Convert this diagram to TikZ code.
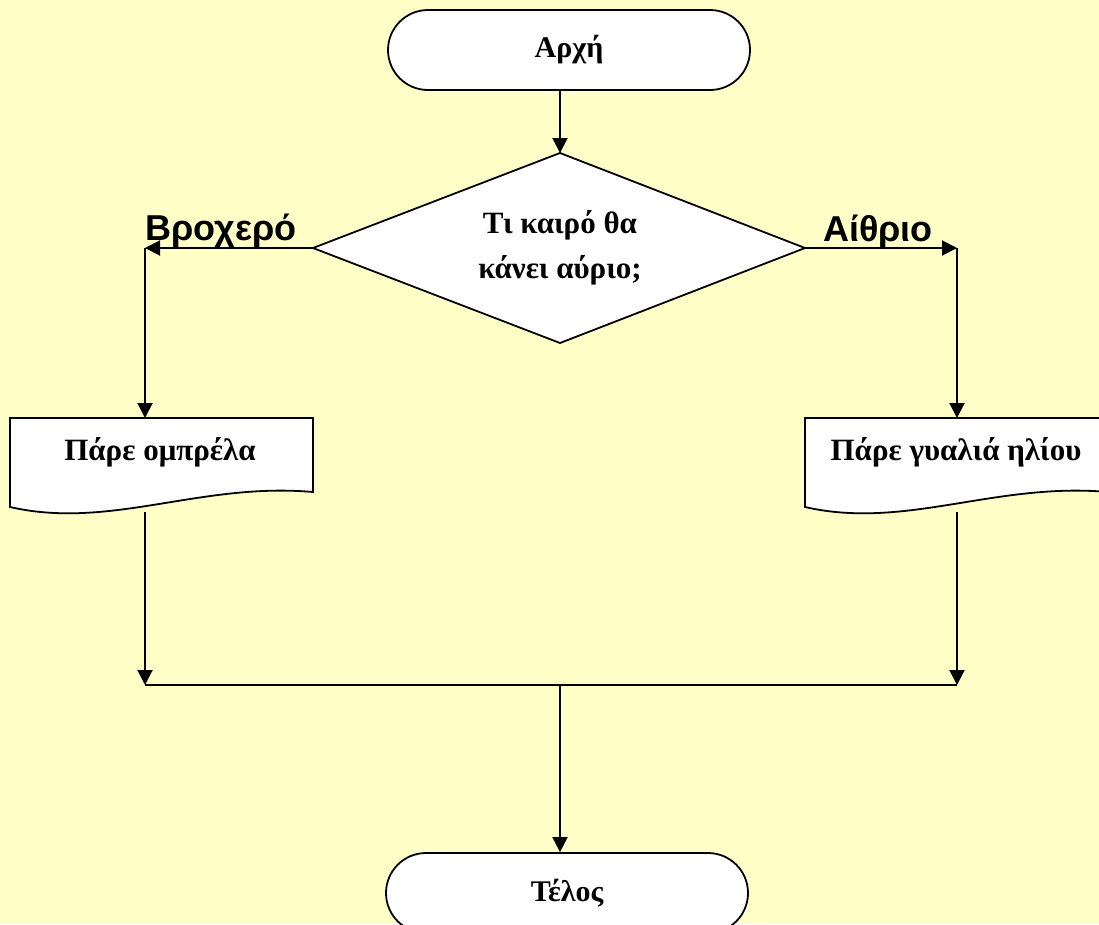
\documentclass[tikz,border=0pt]{standalone}
\usepackage{fontspec}
\setmainfont{Liberation Serif}
\newfontfamily\labelfont{Liberation Sans}
\usetikzlibrary{arrows.meta}
\definecolor{paper}{HTML}{FFFFC8}
\begin{document}
\begin{tikzpicture}[x=1pt,y=-1pt,
  terminal/.style={draw, fill=white, line width=1.8pt, rounded corners=40pt,
    minimum width=362pt, minimum height=80pt, inner sep=0pt,
    font=\bfseries\fontsize{30}{36}\selectfont},
  shapeline/.style={draw, fill=white, line width=1.8pt, line join=miter},
  boxtext/.style={font=\bfseries\fontsize{31}{45}\selectfont, align=center},
  flow/.style={line width=2pt, -{Triangle[length=15pt,width=15pt]}},
  plain/.style={line width=2pt},
  branch/.style={font=\labelfont\bfseries\fontsize{36}{40}\selectfont, anchor=base}]
\clip (0,0) rectangle (1099,924);
\fill[paper] (0,0) rectangle (1099,924);

% start and end terminals
\node[terminal] (start) at (569,50) {Αρχή};
\node[terminal] (end) at (567,893) {Τέλος};

% decision diamond
\coordinate (dtop) at (560,153);
\coordinate (dleft) at (313,248);
\coordinate (dright) at (805,248);
\coordinate (dbottom) at (560,343);
\path[shapeline] (dtop) -- (dright) -- (dbottom) -- (dleft) -- cycle;
\node[boxtext] (question) at (560,248) {Τι καιρό θα\\κάνει αύριο;};

% document boxes
\path[shapeline] (10,418) -- (313,418) -- (313,492)
  .. controls (200,482) and (110,530) .. (10,507) -- cycle;
\path[shapeline] (805,418) -- (1108,418) -- (1108,492)
  .. controls (995,482) and (905,530) .. (805,507) -- cycle;
\node[boxtext] (umbrella) at (160,452) {Πάρε ομπρέλα};
\node[boxtext] (glasses) at (956,452) {Πάρε γυαλιά ηλίου};

% connector points
\coordinate (lcorner) at (145,248);
\coordinate (rcorner) at (957,248);
\coordinate (ltop) at (145,418);
\coordinate (rtop) at (957,418);
\coordinate (lbot) at (145,512);
\coordinate (rbot) at (957,512);
\coordinate (ljoin) at (145,685);
\coordinate (rjoin) at (957,685);
\coordinate (mjoin) at (560,685);

% connectors
\draw[flow] (start.south -| dtop) -- (dtop);
\draw[flow] (dleft) -- (lcorner);
\draw[flow] (dright) -- (rcorner);
\draw[flow] (lcorner) -- (ltop);
\draw[flow] (rcorner) -- (rtop);
\draw[flow] (lbot) -- (ljoin);
\draw[flow] (rbot) -- (rjoin);
\draw[plain] (ljoin) -- (rjoin);
\draw[flow] (mjoin) -- (mjoin |- end.north);

% branch labels
\node[branch] (rainy) at (221,240) {Βροχερό};
\node[branch] (clear) at (878,241) {Αίθριο};
\end{tikzpicture}
\end{document}
